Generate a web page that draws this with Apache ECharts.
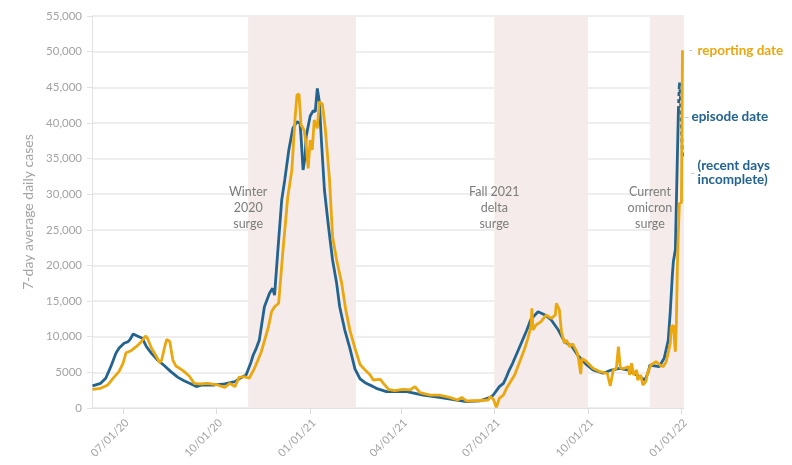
<!DOCTYPE html>
<html><head><meta charset="utf-8">
<script src="https://cdn.jsdelivr.net/npm/echarts@6/dist/echarts.min.js"></script>
<style>html,body{margin:0;padding:0;background:#fff}#c{width:792px;height:465px}</style>
</head><body><div id="c"></div>
<script>
// ---------- DATA (days counted from 2020-06-01) ----------
const START = Date.UTC(2020, 5, 1);
const DAY = 86400000;

const tickDates = ['2020-07-01','2020-10-01','2021-01-01','2021-04-01','2021-07-01','2021-10-01','2022-01-01'];
const bandStarts = ['2020-11-01','2021-07-01','2021-12-01'];
const bandEnds   = ['2021-02-15','2021-10-01', null];
const bandLabels = ['Winter\n2020\nsurge','Fall 2021\ndelta\nsurge','Current\nomicron\nsurge'];

// episode date (blue), complete part
const episodeDays = [
  0,8,13,18,23,26,31,35,37,40,
  44,49,53,58,64,71,77,84,90,97,
  102,108,120,130,140,145,151,156,158,161,
  164,169,174,177,179,182,186,189,193,197,
  201,204,205,207,209,210,214,217,219,221,
  223,225,228,232,236,240,243,248,253,258,
  263,269,276,279,289,309,325,341,358,368,
  381,391,394,400,404,407,409,413,420,427,
  431,438,445,451,458,464,471,477,486,492,
  502,510,518,527,535,543,546,548,557,562,
  566,568,570,571,573,576];
const episodeValues = [
  3100,3460,4170,5800,7670,8370,9080,9300,9640,10380,
  10100,9780,8600,7670,6730,5890,5100,4300,3830,3370,
  3000,3230,3230,3370,3700,4170,4630,6500,7440,8370,
  9540,14210,16090,16790,15850,21700,29180,32000,36200,39240,
  40170,39940,38070,33390,35260,38070,40970,41710,41570,44850,
  42970,37600,30590,25440,20760,17490,14210,10940,8400,5500,
  4100,3460,3000,2760,2290,2290,1820,1500,1120,890,
  1000,1500,1820,3000,3460,4390,5100,6270,8600,10940,
  12440,13510,13050,12350,10940,9300,8700,7400,6030,5330,
  4870,5330,5570,5330,4630,3930,4870,6030,5800,6970,
  9500,13500,18500,20500,22200,41800];
// episode date, recent (incomplete) days
const recentDays   = [576,577,578,579,580];
const recentValues = [41800,45700,43500,39000,35200];

// reporting date (orange)
const reportDays = [
  0,8,15,21,26,30,33,38,43,48,
  52,54,58,62,66,68,71,73,76,79,
  82,89,95,100,105,113,123,130,135,140,
  144,149,154,159,162,166,173,176,179,183,
  187,192,196,199,201,203,205,208,210,212,
  214,216,218,221,223,226,229,233,236,240,
  245,249,253,258,263,268,273,276,283,286,
  291,297,305,312,317,322,332,341,351,359,
  363,368,381,389,391,394,397,400,404,407,
  410,415,420,425,428,431,432,433,436,441,
  446,451,455,456,459,461,464,466,469,472,
  476,477,478,480,481,485,492,499,506,509,
  512,515,517,519,523,527,528,530,532,535,
  536,539,541,544,546,549,554,558,561,564,
  568,569,571,573,574,575,576,577,578,579,
  580];
const reportValues = [
  2620,2760,3230,4300,5100,6270,7760,8040,8600,9300,
  10100,9780,8370,7440,6360,6730,8600,9640,9300,6730,
  5890,5240,4490,3460,3370,3460,3230,2900,3460,3000,
  4300,4390,4170,5500,6500,7900,11400,13510,14210,14690,
  21700,29650,33390,40400,43910,44050,39700,39000,37140,33630,
  37600,36200,40400,39240,42970,42650,39000,32000,24040,20760,
  17490,13750,10940,8400,6100,5330,4630,3930,4030,3460,
  2620,2430,2620,2530,3000,2150,1820,1820,1500,1120,
  1500,980,1050,1120,1590,1250,100,1360,1820,2760,
  3460,4630,6500,8370,9780,11400,13990,10940,11640,12110,
  13050,12580,13050,14690,13750,10700,9080,9540,8600,9000,
  7900,7440,6730,4750,6970,6600,5570,5100,4870,3100,
  5330,5570,8600,5570,5570,5800,4630,6270,4630,5330,
  3930,4630,3230,3700,5100,6030,6500,6030,5800,6500,
  9080,11400,11600,7900,12000,20000,25000,28700,28700,28800,
  50200];

// ---------- CHART ----------
const BLUE = '#22638f', ORANGE = '#eba70e', GRAY = '#a3a3a3', FONT = 'Lato';
const AX_MIN = START - DAY / 2, AX_MAX = START + 581.5 * DAY;
const toTs = d => START + d * DAY;
const pair = (days, vals) => days.map((d, i) => [toTs(d), vals[i]]);
const tickTs = tickDates.map(s => Date.parse(s));
const pad = n => (n < 10 ? '0' : '') + n;
const fmtDate = v => { const d = new Date(v); return pad(d.getUTCMonth()+1) + '/' + pad(d.getUTCDate()) + '/' + String(d.getUTCFullYear()).slice(2); };
const lastT = toTs(reportDays[reportDays.length-1]);

const chart = echarts.init(document.getElementById('c'), null, {renderer: 'canvas'});
chart.setOption({
  animation: false,
  textStyle: {fontFamily: FONT},
  grid: {left: 92, right: 108, top: 16, bottom: 57},
  xAxis: {
    type: 'value', min: AX_MIN, max: AX_MAX,
    axisLine: {show: true, lineStyle: {color: '#e2e2e2', width: 1}},
    axisTick: {show: true, customValues: tickTs, length: 6, lineStyle: {color: '#dcdcdc'}},
    axisLabel: {customValues: tickTs, rotate: 45, verticalAlign: 'top', margin: 9, color: GRAY, fontSize: 11, fontFamily: FONT, formatter: fmtDate},
    splitLine: {show: false}
  },
  yAxis: {
    type: 'value', min: 0, max: 55000, interval: 5000,
    name: '7-day average daily cases', nameLocation: 'middle', nameGap: 56,
    nameTextStyle: {color: GRAY, fontSize: 14, fontFamily: FONT},
    axisLine: {show: true, lineStyle: {color: '#e2e2e2'}},
    axisTick: {show: true, length: 5, lineStyle: {color: '#e2e2e2'}},
    splitLine: {show: true, lineStyle: {color: '#e9e9e9', width: 1.5}},
    axisLabel: {color: GRAY, fontSize: 11.5, margin: 10, fontFamily: FONT,
      formatter: v => v < 10000 ? String(v) : v.toLocaleString('en-US')}
  },
  series: [
    {
      type: 'line', name: 'bands', data: [], z: 1, silent: true,
      markArea: {silent: true, itemStyle: {color: '#f4ebea'},
        data: bandStarts.map((s, i) => [{xAxis: Date.parse(s)}, {xAxis: bandEnds[i] ? Date.parse(bandEnds[i]) : AX_MAX}])},
      markPoint: {silent: true, symbol: 'circle', symbolSize: 0,
        label: {show: true, position: 'inside', color: '#7c7c7c', fontSize: 12.5, lineHeight: 16, fontFamily: FONT, align: 'center'},
        data: bandStarts.map((s, i) => ({coord: [Date.parse(s), 28000], label: {formatter: bandLabels[i]}}))}
    },
    {
      type: 'line', name: 'episode date', data: pair(episodeDays, episodeValues), z: 3,
      showSymbol: false, symbol: 'none', lineStyle: {color: BLUE, width: 2.8}, itemStyle: {color: BLUE}
    },
    {
      type: 'line', name: 'episode recent', data: pair(recentDays, recentValues), z: 3,
      showSymbol: false, symbol: 'none', lineStyle: {color: BLUE, width: 2.8, type: [4, 3]}, itemStyle: {color: BLUE}
    },
    {
      type: 'line', name: 'reporting date', data: pair(reportDays, reportValues), z: 4,
      showSymbol: false, symbol: 'none', lineStyle: {color: ORANGE, width: 2.8}, itemStyle: {color: ORANGE},
      markPoint: {silent: true, symbol: 'circle', symbolSize: 0,
        label: {show: true, position: 'right', fontFamily: FONT},
        data: [
          {coord: [lastT, 50200], label: {formatter: '-', distance: 6, color: '#bdbdbd', fontSize: 12}},
          {coord: [lastT, 50200], label: {formatter: 'reporting date', distance: 15, color: ORANGE, fontSize: 13.5, fontWeight: 'bold'}},
          {coord: [lastT, 40830], label: {formatter: '-', distance: 2, color: '#bdbdbd', fontSize: 12}},
          {coord: [lastT, 40830], label: {formatter: 'episode date', distance: 9, color: BLUE, fontSize: 13.5, fontWeight: 'bold'}},
          {coord: [lastT, 32970], label: {formatter: '-', distance: 8, color: '#bdbdbd', fontSize: 12}},
          {coord: [lastT, 32970], label: {formatter: '(recent days\nincomplete)', distance: 15, color: BLUE, fontSize: 13.5, fontWeight: 'bold', lineHeight: 14, align: 'left'}}
        ]}
    }
  ]
});
</script>
</body></html>
